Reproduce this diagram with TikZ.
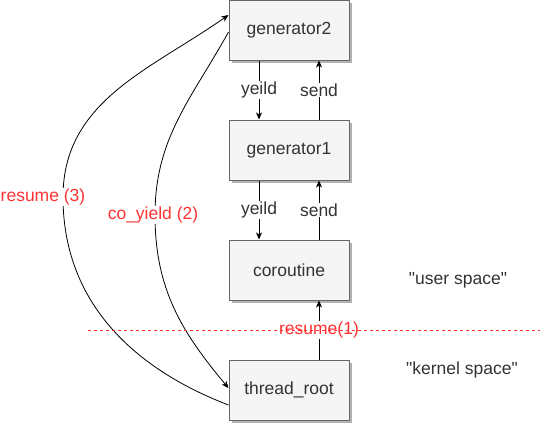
\documentclass[tikz,border=0pt]{standalone}
\usepackage{fontspec}
\setmainfont{Liberation Sans}
\usetikzlibrary{arrows.meta,shadows}
\definecolor{boxfill}{HTML}{F5F5F5}
\definecolor{boxline}{HTML}{666666}
\definecolor{ink}{HTML}{333333}
\definecolor{callred}{HTML}{FF3333}
\tikzset
 {> = {Stealth[length=7pt,width=6pt,inset=2pt]},   % filled tips like the classic draw.io arrow
  frame/.style =                         % every box of the call chain
   {draw=boxline, fill=boxfill, text=ink, line width=1pt,
    minimum width=120pt, minimum height=60pt, inner sep=0pt,
    drop shadow={shadow xshift=3pt, shadow yshift=-3pt, fill=black!30, opacity=1}
   },
  link/.style = {->, line width=1pt},              % straight hops between boxes
  swoop/.style = {->, line width=0.8pt},           % long curved calls on the left
  tag/.style = {fill=white, text=ink, inner sep=1pt},      % grey edge labels
  call/.style = {fill=white, text=callred, inner sep=1pt}, % red call labels
  divide/.style = {draw=callred, line width=0.8pt, dash pattern=on 3pt off 3pt}
 }
\begin{document}
\begin{tikzpicture}[x=1pt, y=1pt, font=\fontsize{17.5}{21}\selectfont]
    \useasboundingbox (0,0) rectangle (540,-424);
    % the call chain, top to bottom
    \node[frame] (gen2) at (289,-30) {generator2};
    \node[frame] (gen1) at (289,-150) {generator1};
    \node[frame] (coro) at (289,-270) {coroutine};
    \node[frame] (root) at (289,-390) {thread\_root};
    % yeild goes down on the left, send comes back up on the right
    \foreach \upper/\lower in {gen2/gen1, gen1/coro}
     {\draw[link] ([xshift=-30pt]\upper.south) -- node[tag] {yeild} ([xshift=-30pt]\lower.north);
      \draw[link] ([xshift=30pt]\lower.north) -- node[tag] {send} ([xshift=30pt]\upper.south);
     }
    \draw[link] ([xshift=30pt]root.north) -- node[call] (res1) {resume(1)} ([xshift=30pt]coro.south);
    % the long jumps between thread_root and generator2
    \coordinate (via3) at (63,-197);
    \coordinate (via2) at (155,-215);
    \draw[swoop] ([yshift=-15pt]root.west) to[out=159, in=-90] (via3)
                 to[out=90, in=215] ([yshift=15pt]gen2.west);
    \draw[swoop] ([yshift=-2pt]gen2.west) to[out=-119, in=90] (via2)
                 to[out=-90, in=130] ([yshift=2pt]root.west);
    \node[call] (res3) at (43,-197) {resume (3)};
    \node[call] (coy2) at (153,-215) {co\_yield (2)};
    % border between the two spaces
    \draw[divide] (88,-330) -- (540,-330);
    \node[text=ink] (user) at (458,-280) {\textquotedbl user space\textquotedbl};
    \node[text=ink] (kern) at (462,-370) {\textquotedbl kernel space\textquotedbl};
\end{tikzpicture}
\end{document}
